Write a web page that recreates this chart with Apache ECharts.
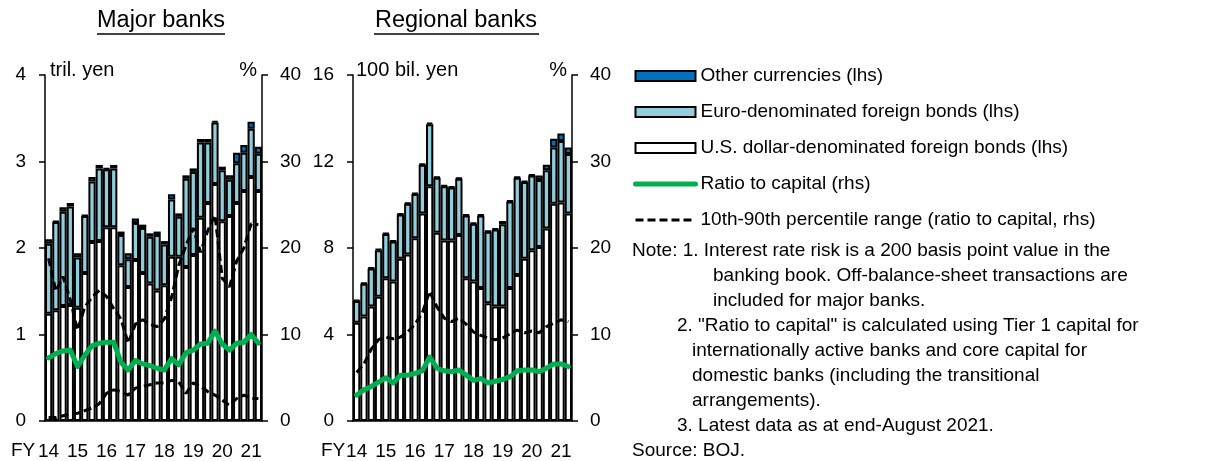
<!DOCTYPE html>
<html><head><meta charset="utf-8">
<script src="https://cdn.jsdelivr.net/npm/echarts@6/dist/echarts.min.js"></script>
<style>html,body{margin:0;padding:0;background:#fff}#c{width:1207px;height:461px}</style>
</head><body><div id="c"></div>
<script>
// ---------- data ----------
const quarters = ['FY14Q1','FY14Q2','FY14Q3','FY14Q4','FY15Q1','FY15Q2','FY15Q3','FY15Q4',
  'FY16Q1','FY16Q2','FY16Q3','FY16Q4','FY17Q1','FY17Q2','FY17Q3','FY17Q4',
  'FY18Q1','FY18Q2','FY18Q3','FY18Q4','FY19Q1','FY19Q2','FY19Q3','FY19Q4',
  'FY20Q1','FY20Q2','FY20Q3','FY20Q4','FY21Q1','FY21Aug'];
const yearLabels = ['14','15','16','17','18','19','20','21'];

// Major banks (tril. yen, lhs)
const majorUSD   = [1.24,1.28,1.33,1.34,1.31,1.71,2.07,2.08,2.24,2.24,1.80,1.55,1.86,1.71,1.59,1.51,1.57,1.90,1.90,1.78,1.92,2.35,2.52,2.74,2.31,2.37,2.52,2.66,2.82,2.66];
const majorEuro  = [0.81,1.02,1.09,1.14,0.58,0.66,0.70,0.84,0.67,0.68,0.35,0.32,0.43,0.52,0.54,0.64,0.47,0.66,0.46,1.02,0.96,0.87,0.70,0.71,0.59,0.42,0.46,0.44,0.56,0.43];
const majorOther = [0.05,0.01,0.05,0.04,0.05,0.01,0.05,0.04,0.01,0.04,0.04,0.07,0.05,0.04,0.04,0.04,0.04,0.06,0.04,0.04,0.04,0.04,0.04,0.02,0.04,0.05,0.12,0.09,0.08,0.08];
// Major banks (%, rhs)
const majorRatio = [7.3,7.8,8.1,8.2,6.3,7.6,8.7,9.0,9.1,9.1,6.8,5.9,7.0,6.6,6.4,6.1,5.9,7.2,6.5,7.9,8.2,8.9,9.0,10.4,8.9,8.2,9.0,9.1,10.0,9.0];
const majorP90   = [18.8,15.0,16.7,14.0,10.5,13.2,14.3,15.1,14.4,13.0,11.8,9.0,11.2,11.7,11.2,10.9,11.8,14.3,18.0,20.3,22.3,19.5,22.0,23.8,16.5,15.5,18.5,20.0,22.8,22.7];
const majorP10   = [0.4,0.4,0.6,0.8,0.9,1.2,1.5,2.0,3.2,3.6,3.4,3.0,3.8,4.0,4.2,4.4,4.4,4.7,4.5,3.2,4.4,4.0,3.4,3.0,2.4,1.8,2.6,3.0,2.6,2.6];

// Regional banks (100 bil. yen, lhs)
const regUSD   = [4.54,4.83,5.30,5.75,6.60,6.45,7.50,7.70,8.45,9.60,10.85,8.70,8.35,8.35,8.60,6.60,6.45,6.15,5.45,5.30,5.30,6.15,6.75,7.50,7.90,8.05,8.90,10.05,10.10,9.60];
const regEuro  = [1.01,1.52,1.75,2.15,2.05,1.85,2.05,2.35,2.05,2.25,2.87,2.55,2.50,2.45,2.60,2.90,2.67,3.35,3.30,3.55,3.80,4.00,4.50,3.55,3.45,3.10,2.70,2.60,2.85,2.75];
const regOther = [0.05,0.05,0.05,0.05,0.05,0.05,0.05,0.05,0.05,0.05,0.08,0.05,0.05,0.05,0.05,0.05,0.05,0.05,0.05,0.05,0.15,0.05,0.05,0.05,0.05,0.20,0.25,0.40,0.35,0.30];
// Regional banks (%, rhs)
const regRatio = [3.0,3.6,4.0,4.5,5.0,4.4,5.3,5.3,5.5,5.8,7.4,6.1,5.8,5.7,5.9,5.3,4.7,4.9,4.4,4.6,4.8,5.1,5.8,5.9,5.9,5.7,6.1,6.6,6.6,6.3];
const regP90   = [5.6,6.6,8.3,9.4,9.7,9.5,9.7,10.3,11.2,12.5,15.0,13.2,11.9,11.5,11.9,11.2,10.3,9.9,9.6,9.4,9.6,10.1,10.5,10.2,10.4,10.2,10.9,11.3,11.7,11.5];

const leftTicksMajor = [0,4,1];   // min,max,interval
const leftTicksReg   = [0,16,4];
const rightTicks     = [0,40,10];

const noteLines = [
  'Note: 1. Interest rate risk is a 200 basis point value in the',
  'banking book. Off-balance-sheet transactions are',
  'included for major banks.',
  '2. "Ratio to capital" is calculated using Tier 1 capital for',
  'internationally active banks and core capital for',
  'domestic banks (including the transitional',
  'arrangements).',
  '3. Latest data as at end-August 2021.',
  'Source: BOJ.'
];

// ---------- chart ----------
const FONT = '"Liberation Sans", Arial, sans-serif';
const N_OTHER = 'Other currencies (lhs)';
const N_EURO = 'Euro-denominated foreign bonds (lhs)';
const N_USD = 'U.S. dollar-denominated foreign bonds (lhs)';
const N_RATIO = 'Ratio to capital (rhs)';
const N_PCT = '10th-90th percentile range (ratio to capital, rhs)';

function xAx(gi){
  return {type:'category', gridIndex:gi, data:quarters, boundaryGap:true,
    axisLine:{lineStyle:{color:'#000', width:1.5}},
    axisTick:{interval:3, length:6, lineStyle:{color:'#000', width:1.5}},
    axisLabel:{interval:3, formatter:(v,i)=>yearLabels[Math.round(i/4)], color:'#000', fontSize:19, margin:21, fontFamily:FONT}};
}
function yAx(gi, pos, t){
  return {type:'value', gridIndex:gi, position:pos, min:t[0], max:t[1], interval:t[2],
    axisLine:{show:true, lineStyle:{color:'#000', width:1.5}},
    axisTick:{show:true, length:6, lineStyle:{color:'#000', width:1.5}},
    splitLine:{show:false},
    axisLabel:{color:'#000', fontSize:19, margin:pos==='left'?19:18, fontFamily:FONT}};
}
const barBase = {type:'bar', barCategoryGap:'0%', barGap:'0%'};
function bars(xi, yi, stack, usd, euro, other){
  return [
    Object.assign({}, barBase, {name:N_USD, xAxisIndex:xi, yAxisIndex:yi, stack, data:usd,
      itemStyle:{color:'#ffffff', borderColor:'#000', borderWidth:2}}),
    Object.assign({}, barBase, {name:N_EURO, xAxisIndex:xi, yAxisIndex:yi, stack, data:euro,
      itemStyle:{color:'#92CDDC', borderColor:'#000', borderWidth:2}}),
    Object.assign({}, barBase, {name:N_OTHER, xAxisIndex:xi, yAxisIndex:yi, stack, data:other,
      itemStyle:{color:'#0070C0', borderColor:'#000', borderWidth:2}})
  ];
}
function pctLine(xi, yi, data){
  return {name:N_PCT, type:'line', xAxisIndex:xi, yAxisIndex:yi, data, symbol:'none', z:4,
    itemStyle:{color:'#000'}, lineStyle:{color:'#000', width:3, type:[8,4]}};
}
function ratioLine(xi, yi, data){
  return {name:N_RATIO, type:'line', xAxisIndex:xi, yAxisIndex:yi, data, symbol:'none', z:5,
    itemStyle:{color:'#00B050'}, lineStyle:{color:'#00B050', width:5, join:'round', cap:'round'}};
}

const txt = (x, y, text, size, align) => ({type:'text', x, y,
  style:{text, fill:'#000', font:`${size}px ${FONT}`, textAlign:align||'left', textVerticalAlign:'middle'}});

const noteX = [632, 713, 713, 677, 692, 692, 692, 677, 632];
const graphics = [
  txt(161, 21, 'Major banks', 23.5, 'center'),
  {type:'line', shape:{x1:97, y1:34, x2:225, y2:34}, style:{stroke:'#000', lineWidth:1.5}},
  txt(456, 21, 'Regional banks', 23.5, 'center'),
  {type:'line', shape:{x1:374, y1:34, x2:539, y2:34}, style:{stroke:'#000', lineWidth:1.5}},
  txt(50, 70, 'tril. yen', 20),
  txt(257, 70, '%', 20, 'right'),
  txt(356, 70, '100 bil. yen', 20),
  txt(567, 70, '%', 20, 'right'),
  txt(11, 451, 'FY', 19),
  txt(321, 451, 'FY', 19)
];
noteLines.forEach((l, i) => graphics.push(txt(noteX[i], 251 + i * 25, l, 19)));

const lineLegendStyle = {opacity:0};
const option = {
  animation:false,
  backgroundColor:'#fff',
  textStyle:{fontFamily:FONT},
  grid:[
    {left:45, top:75, width:217, height:346},
    {left:353, top:75, width:219, height:346}
  ],
  legend:{orient:'vertical', left:633, top:66, padding:0, itemWidth:60, itemHeight:10, itemGap:16,
    selectedMode:false, lineStyle:{width:'inherit'},
    textStyle:{fontSize:19, color:'#000', fontFamily:FONT, lineHeight:20},
    data:[{name:N_OTHER, icon:'rect'}, {name:N_EURO, icon:'rect'}, {name:N_USD, icon:'rect'},
          {name:N_RATIO, itemStyle:lineLegendStyle}, {name:N_PCT, itemStyle:lineLegendStyle}]},
  xAxis:[xAx(0), xAx(1)],
  yAxis:[yAx(0,'left',leftTicksMajor), yAx(0,'right',rightTicks), yAx(1,'left',leftTicksReg), yAx(1,'right',rightTicks)],
  series:[
    ...bars(0, 0, 'major', majorUSD, majorEuro, majorOther),
    ...bars(1, 2, 'reg', regUSD, regEuro, regOther),
    pctLine(0, 1, majorP90), pctLine(0, 1, majorP10), pctLine(1, 3, regP90),
    ratioLine(0, 1, majorRatio), ratioLine(1, 3, regRatio)
  ],
  graphic:graphics
};
const chart = echarts.init(document.getElementById('c'));
chart.setOption(option);
</script>
</body></html>
